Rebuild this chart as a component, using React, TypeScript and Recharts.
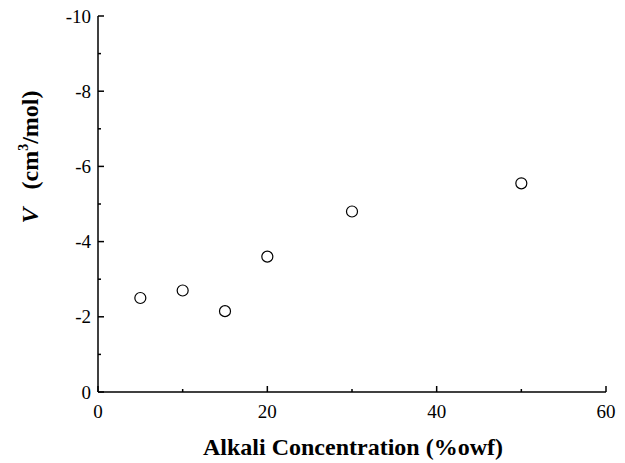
import { ScatterChart, Scatter, XAxis, YAxis } from 'recharts';

const concentration = [5, 10, 15, 20, 30, 50];
const volume = [-2.5, -2.7, -2.15, -3.6, -4.8, -5.55];

const xTicks = [0, 10, 20, 30, 40, 50, 60];
const xLabels = [0, 20, 40, 60];
const yTicks = [-10, -9, -8, -7, -6, -5, -4, -3, -2, -1, 0];
const yLabels = [-10, -8, -6, -4, -2, 0];

const points = concentration.map((c, i) => ({ c, v: volume[i] }));

const serif = { fontFamily: '"Liberation Serif", "Times New Roman", serif' };

const BottomTick = (props: any) => {
    const { x, y, payload } = props;
    const major = xLabels.includes(payload.value);
    return (
        <g>
            <line x1={x} y1={y} x2={x} y2={y - (major ? 6 : 3)} stroke='#000' strokeWidth={1.5} />
            {major && (
                <text x={x} y={y + 26} textAnchor='middle' style={serif} fontSize={19} fill='#000'>
                    {payload.value}
                </text>
            )}
        </g>
    );
};

const TopTick = (props: any) => {
    const { x, y, payload } = props;
    const major = xLabels.includes(payload.value);
    return <line x1={x} y1={y} x2={x} y2={y + (major ? 6 : 3)} stroke='#000' strokeWidth={1.5} />;
};

const LeftTick = (props: any) => {
    const { x, y, payload } = props;
    const major = yLabels.includes(payload.value);
    return (
        <g>
            <line x1={x} y1={y} x2={x + (major ? 6 : 3)} y2={y} stroke='#000' strokeWidth={1.5} />
            {major && (
                <text x={x - 7} y={y + 6.5} textAnchor='end' style={serif} fontSize={19} fill='#000'>
                    {payload.value}
                </text>
            )}
        </g>
    );
};

const RightTick = (props: any) => {
    const { x, y, payload } = props;
    const major = yLabels.includes(payload.value);
    return <line x1={x} y1={y} x2={x - (major ? 6 : 3)} y2={y} stroke='#000' strokeWidth={1.5} />;
};

const Circle = (props: any) => {
    const { cx, cy } = props;
    return <circle cx={cx} cy={cy} r={5.5} fill='#fff' stroke='#000' strokeWidth={1.2} />;
};

const App = () => {
    return (
        <div style={{ position: 'absolute', left: 0, top: 0, width: 625, height: 463 }}>
            <ScatterChart width={625} height={463} margin={{ top: 16, right: 19, bottom: 0, left: 0 }}>
                <XAxis
                    xAxisId='bottom'
                    dataKey='c'
                    type='number'
                    domain={[0, 60]}
                    ticks={xTicks}
                    height={71}
                    tickSize={0}
                    tickMargin={0}
                    tickLine={false}
                    tick={<BottomTick />}
                    axisLine={{ stroke: '#000', strokeWidth: 1.5 }}
                    interval={0}
                    allowDataOverflow
                />
                <XAxis
                    xAxisId='top'
                    orientation='top'
                    dataKey='c'
                    type='number'
                    domain={[0, 60]}
                    ticks={xTicks}
                    height={0}
                    tickSize={0}
                    tickMargin={0}
                    tickLine={false}
                    tick={<TopTick />}
                    axisLine={{ stroke: '#000', strokeWidth: 1.5 }}
                    interval={0}
                    allowDataOverflow
                />
                <YAxis
                    yAxisId='left'
                    dataKey='v'
                    type='number'
                    domain={[-10, 0]}
                    reversed
                    ticks={yTicks}
                    width={98}
                    tickSize={0}
                    tickMargin={0}
                    tickLine={false}
                    tick={<LeftTick />}
                    axisLine={{ stroke: '#000', strokeWidth: 1.5 }}
                    interval={0}
                    allowDataOverflow
                />
                <YAxis
                    yAxisId='right'
                    orientation='right'
                    dataKey='v'
                    type='number'
                    domain={[-10, 0]}
                    reversed
                    ticks={yTicks}
                    width={0}
                    tickSize={0}
                    tickMargin={0}
                    tickLine={false}
                    tick={<RightTick />}
                    axisLine={{ stroke: '#000', strokeWidth: 1.5 }}
                    interval={0}
                    allowDataOverflow
                />
                <Scatter
                    data={points}
                    xAxisId='top'
                    yAxisId='right'
                    shape={() => <g />}
                    isAnimationActive={false}
                />
                <Scatter
                    data={points}
                    xAxisId='bottom'
                    yAxisId='left'
                    shape={<Circle />}
                    isAnimationActive={false}
                />
            </ScatterChart>
            <svg
                width={625}
                height={463}
                style={{ position: 'absolute', left: 0, top: 0, pointerEvents: 'none' }}
            >
                <text
                    x={353}
                    y={455}
                    textAnchor='middle'
                    style={serif}
                    fontWeight='bold'
                    fontSize={24}
                    fill='#000'
                >
                    Alkali Concentration (%owf)
                </text>
                <text
                    transform='translate(38, 157) rotate(-90)'
                    textAnchor='middle'
                    style={serif}
                    fontWeight='bold'
                    fontSize={24}
                    fill='#000'
                >
                    <tspan fontStyle='italic'>V</tspan>
                    <tspan xmlSpace='preserve'>{'   (cm'}</tspan>
                    <tspan fontSize={14} dy={-10}>3</tspan>
                    <tspan dy={10}>/mol)</tspan>
                </text>
            </svg>
        </div>
    );
};

export default App;
